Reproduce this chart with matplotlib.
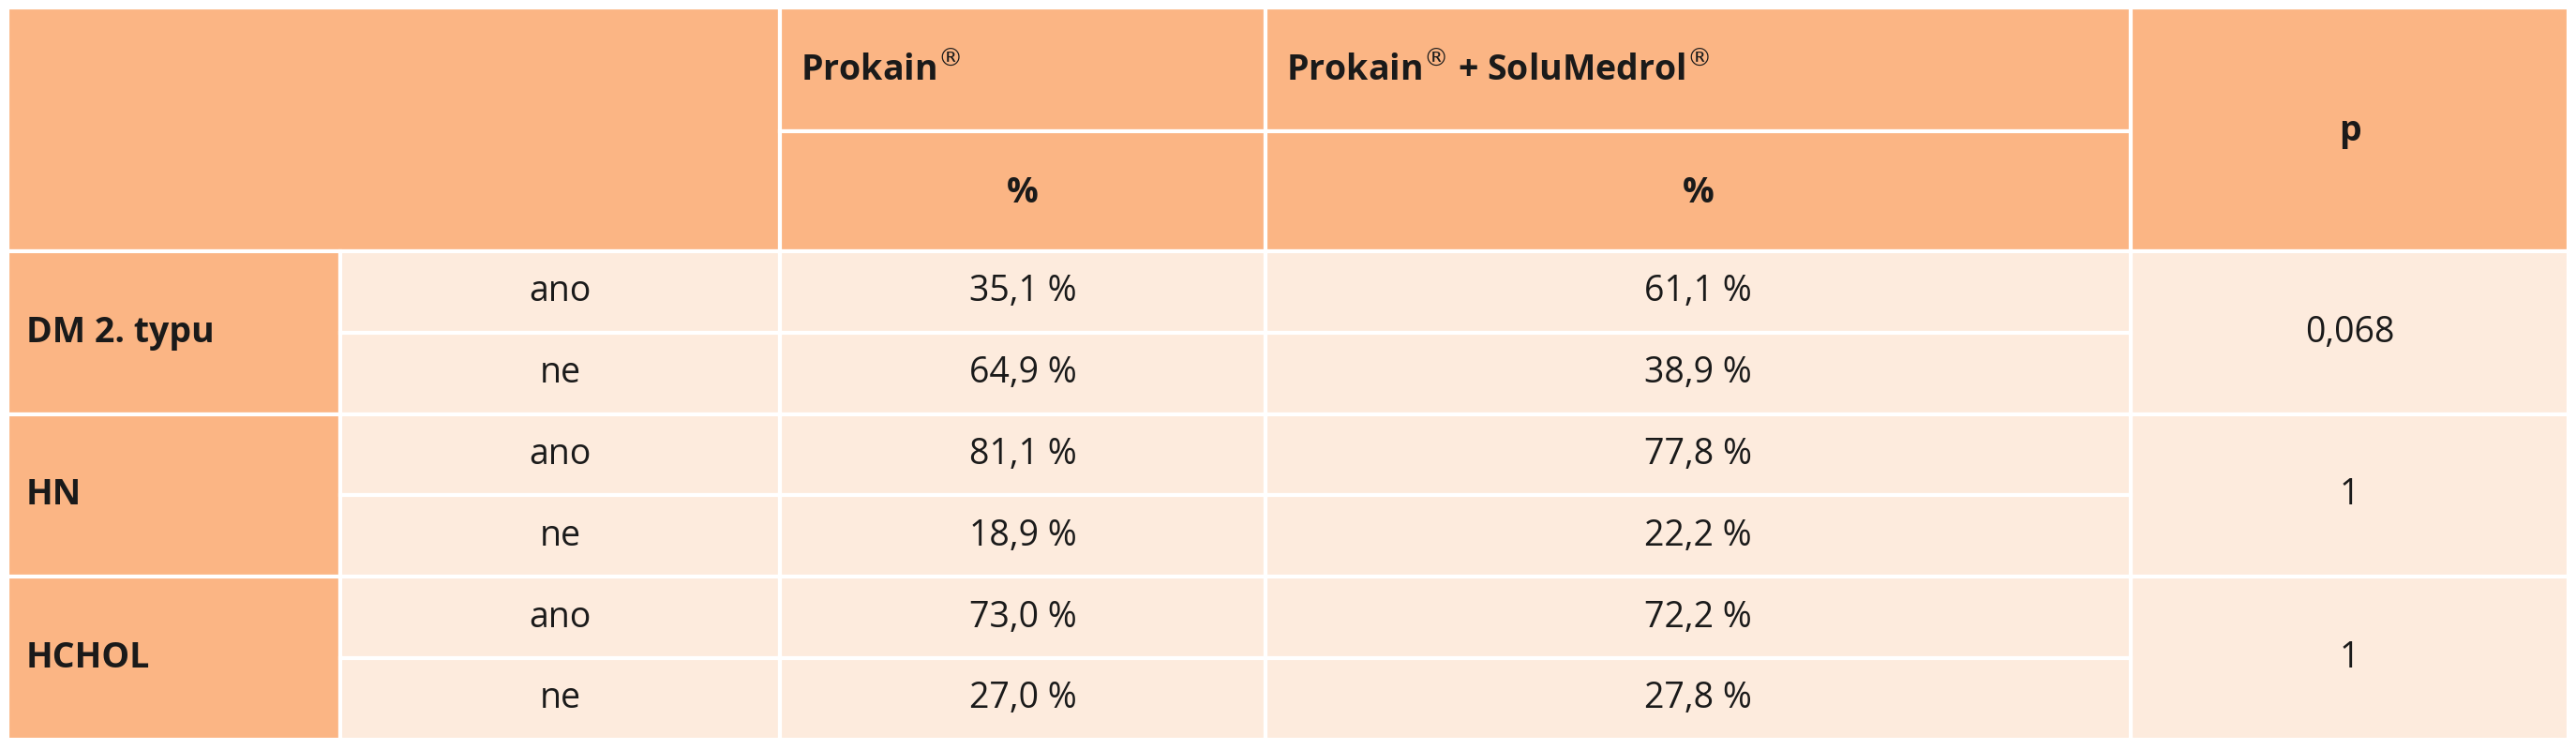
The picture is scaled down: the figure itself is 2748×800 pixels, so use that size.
import matplotlib.pyplot as plt
from matplotlib.patches import Rectangle

# table data
groups = ["DM 2. typu", "HN", "HCHOL"]
answers = ["ano", "ne"]
prokain = ["35,1 %", "64,9 %", "81,1 %", "18,9 %", "73,0 %", "27,0 %"]
prokain_solu = ["61,1 %", "38,9 %", "77,8 %", "22,2 %", "72,2 %", "27,8 %"]
p_values = ["0,068", "1", "1"]

# layout (pixels)
col_x = [8, 363, 832, 1350, 2273, 2740]
head_y = [8, 140, 268]
row_h = 86.8
head_col = "#fbb584"
body_col = "#fdebdd"
line = "white"
font = "Open Sans"
fs = 27

fig = plt.figure(figsize=(27.48, 8.0), dpi=100)
ax = fig.add_axes([0, 0, 1, 1])
ax.set_xlim(0, 2748)
ax.set_ylim(800, 0)
ax.axis("off")


def cell(x0, x1, y0, y1, color):
    ax.add_patch(Rectangle((x0, y0), x1 - x0, y1 - y0, facecolor=color,
                           edgecolor=line, linewidth=3))


def txt(x, y, s, bold=False, ha="center"):
    ax.text(x, y, s, ha=ha, va="center", fontsize=fs, family=font,
            fontweight="bold" if bold else "normal", color="#1a1a1a")


# header
cell(col_x[0], col_x[2], head_y[0], head_y[2], head_col)
cell(col_x[2], col_x[3], head_y[0], head_y[1], head_col)
cell(col_x[3], col_x[4], head_y[0], head_y[1], head_col)
cell(col_x[2], col_x[3], head_y[1], head_y[2], head_col)
cell(col_x[3], col_x[4], head_y[1], head_y[2], head_col)
cell(col_x[4], col_x[5], head_y[0], head_y[2], head_col)
txt(col_x[2] + 22, 76, "Prokain$^{®}$", bold=True, ha="left")
txt(col_x[3] + 22, 76, "Prokain$^{®}$ + SoluMedrol$^{®}$", bold=True, ha="left")
txt((col_x[2] + col_x[3]) / 2, 206, "%", bold=True)
txt((col_x[3] + col_x[4]) / 2, 206, "%", bold=True)
txt((col_x[4] + col_x[5]) / 2, 140, "p", bold=True)

# body
for g, name in enumerate(groups):
    y0 = head_y[2] + g * 2 * row_h
    cell(col_x[0], col_x[1], y0, y0 + 2 * row_h, head_col)
    txt(col_x[0] + 20, y0 + row_h, name, bold=True, ha="left")
    cell(col_x[4], col_x[5], y0, y0 + 2 * row_h, body_col)
    txt((col_x[4] + col_x[5]) / 2, y0 + row_h, p_values[g])
    for a, ans in enumerate(answers):
        i = g * 2 + a
        ya = y0 + a * row_h
        for c in range(1, 4):
            cell(col_x[c], col_x[c + 1], ya, ya + row_h, body_col)
        txt((col_x[1] + col_x[2]) / 2, ya + row_h / 2, ans)
        txt((col_x[2] + col_x[3]) / 2, ya + row_h / 2, prokain[i])
        txt((col_x[3] + col_x[4]) / 2, ya + row_h / 2, prokain_solu[i])

fig.savefig("out.png", dpi=100, facecolor="white")
